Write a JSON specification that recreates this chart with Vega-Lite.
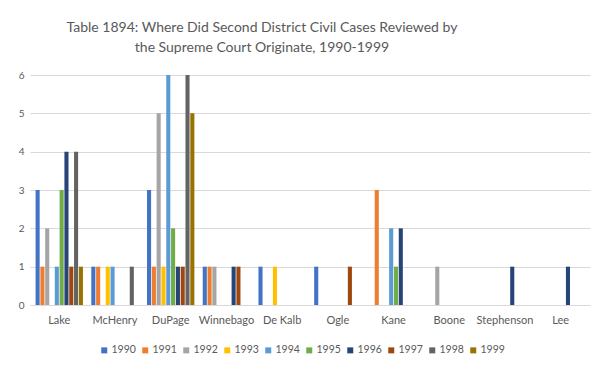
{
  "$schema": "https://vega.github.io/schema/vega-lite/v6.json",
  "width": 560,
  "height": 230,
  "autosize": "none",
  "padding": {"left": 30, "top": 75, "right": 10, "bottom": 69},
  "background": "white",
  "title": {
    "text": ["Table 1894: Where Did Second District Civil Cases Reviewed by", "the Supreme Court Originate, 1990-1999"],
    "font": "Lato",
    "fontSize": 14,
    "fontWeight": "normal",
    "color": "#595959",
    "lineHeight": 20,
    "anchor": "middle",
    "dx": -48,
    "offset": 15
  },
  "data": {
    "values": [
      {"county": "Lake", "year": "1990", "cases": 3},
      {"county": "Lake", "year": "1991", "cases": 1},
      {"county": "Lake", "year": "1992", "cases": 2},
      {"county": "Lake", "year": "1994", "cases": 1},
      {"county": "Lake", "year": "1995", "cases": 3},
      {"county": "Lake", "year": "1996", "cases": 4},
      {"county": "Lake", "year": "1997", "cases": 1},
      {"county": "Lake", "year": "1998", "cases": 4},
      {"county": "Lake", "year": "1999", "cases": 1},
      {"county": "McHenry", "year": "1990", "cases": 1},
      {"county": "McHenry", "year": "1991", "cases": 1},
      {"county": "McHenry", "year": "1993", "cases": 1},
      {"county": "McHenry", "year": "1994", "cases": 1},
      {"county": "McHenry", "year": "1998", "cases": 1},
      {"county": "DuPage", "year": "1990", "cases": 3},
      {"county": "DuPage", "year": "1991", "cases": 1},
      {"county": "DuPage", "year": "1992", "cases": 5},
      {"county": "DuPage", "year": "1993", "cases": 1},
      {"county": "DuPage", "year": "1994", "cases": 6},
      {"county": "DuPage", "year": "1995", "cases": 2},
      {"county": "DuPage", "year": "1996", "cases": 1},
      {"county": "DuPage", "year": "1997", "cases": 1},
      {"county": "DuPage", "year": "1998", "cases": 6},
      {"county": "DuPage", "year": "1999", "cases": 5},
      {"county": "Winnebago", "year": "1990", "cases": 1},
      {"county": "Winnebago", "year": "1991", "cases": 1},
      {"county": "Winnebago", "year": "1992", "cases": 1},
      {"county": "Winnebago", "year": "1996", "cases": 1},
      {"county": "Winnebago", "year": "1997", "cases": 1},
      {"county": "De Kalb", "year": "1990", "cases": 1},
      {"county": "De Kalb", "year": "1993", "cases": 1},
      {"county": "Ogle", "year": "1990", "cases": 1},
      {"county": "Ogle", "year": "1997", "cases": 1},
      {"county": "Kane", "year": "1991", "cases": 3},
      {"county": "Kane", "year": "1994", "cases": 2},
      {"county": "Kane", "year": "1995", "cases": 1},
      {"county": "Kane", "year": "1996", "cases": 2},
      {"county": "Boone", "year": "1992", "cases": 1},
      {"county": "Stephenson", "year": "1996", "cases": 1},
      {"county": "Lee", "year": "1996", "cases": 1}
    ]
  },
  "mark": {"type": "bar"},
  "encoding": {
    "x": {
      "field": "county",
      "type": "nominal",
      "sort": ["Lake", "McHenry", "DuPage", "Winnebago", "De Kalb", "Ogle", "Kane", "Boone", "Stephenson", "Lee"],
      "scale": {"paddingInner": 0.15, "paddingOuter": 0.1},
      "axis": {
        "title": null,
        "labelAngle": 0,
        "labelFont": "Lato",
        "labelFontSize": 11,
        "labelColor": "#595959",
        "labelPadding": 9,
        "ticks": false,
        "domainColor": "#d9d9d9",
        "grid": false
      }
    },
    "xOffset": {
      "field": "year",
      "type": "nominal",
      "scale": {"domain": ["1990", "1991", "1992", "1993", "1994", "1995", "1996", "1997", "1998", "1999"], "paddingInner": 0.15}
    },
    "y": {
      "field": "cases",
      "type": "quantitative",
      "scale": {"domain": [0, 6]},
      "axis": {
        "title": null,
        "values": [0, 1, 2, 3, 4, 5, 6],
        "labelOverlap": false,
        "labelFont": "Lato",
        "labelFontSize": 10,
        "labelColor": "#595959",
        "labelPadding": 6,
        "ticks": false,
        "domain": false,
        "gridColor": "#d9d9d9"
      }
    },
    "color": {
      "field": "year",
      "type": "nominal",
      "scale": {
        "domain": ["1990", "1991", "1992", "1993", "1994", "1995", "1996", "1997", "1998", "1999"],
        "range": ["#4472C4", "#ED7D31", "#A5A5A5", "#FFC000", "#5B9BD5", "#70AD47", "#264478", "#9E480E", "#636363", "#997300"]
      },
      "legend": {
        "title": null,
        "orient": "none",
        "direction": "horizontal",
        "legendX": 69,
        "legendY": 270,
        "symbolType": "square",
        "symbolSize": 36,
        "symbolStrokeWidth": 0,
        "labelFont": "Lato",
        "labelFontSize": 10.5,
        "labelColor": "#595959",
        "columnPadding": 4,
        "labelOffset": 2
      }
    }
  },
  "config": {"view": {"stroke": null}}
}
